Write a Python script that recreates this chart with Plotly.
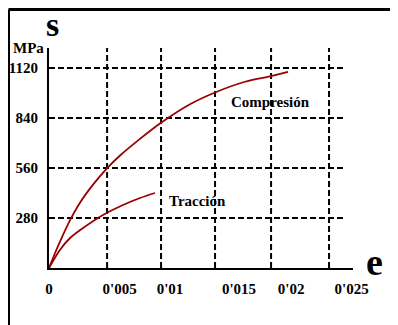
import plotly.graph_objects as go

# Data
comp_strain = [0, 0.0005, 0.00091, 0.00174, 0.00256, 0.00364, 0.00479, 0.00587, 0.00752,
               0.00917, 0.01165, 0.01372, 0.0162, 0.01826, 0.01975]
comp_stress = [0, 84, 148, 268, 366, 467, 558, 630, 723, 809, 917, 983, 1043, 1073, 1098]

trac_strain = [0, 0.0009, 0.00174, 0.00281, 0.00446, 0.00612, 0.00752, 0.00876]
trac_stress = [0, 101, 168, 224, 297, 353, 392, 420]

x_tick_text = ["0", "0'005", "0'01", "0'015", "0'02", "0'025"]
x_tick_pos = [0, 0.00583, 0.0100, 0.0157, 0.0200, 0.0250]
y_tick_vals = [280, 560, 840, 1120]
y_tick_text = ["280", "560", "840", "1120"]

v_grid = [0.0048, 0.00926, 0.01372, 0.01835, 0.02314]
h_grid = [280, 560, 840, 1120]

X_MAX = 0.02512
Y_MAX = 1232
H_GRID_END = 0.02446

RED = "#990000"
FONT = "Liberation Serif"

fig = go.Figure()
fig.add_trace(go.Scatter(x=comp_strain, y=comp_stress, mode="lines",
                         line=dict(color=RED, width=1.8, shape="spline", smoothing=0.8),
                         showlegend=False, hoverinfo="skip", cliponaxis=False))
fig.add_trace(go.Scatter(x=trac_strain, y=trac_stress, mode="lines",
                         line=dict(color=RED, width=1.8, shape="spline", smoothing=0.8),
                         showlegend=False, hoverinfo="skip", cliponaxis=False))

shapes = []
for xv in v_grid:
    shapes.append(dict(type="line", xref="x", yref="y", x0=xv, x1=xv, y0=0, y1=Y_MAX,
                       line=dict(color="black", width=2, dash="6px,3px"), layer="below"))
for yv in h_grid:
    shapes.append(dict(type="line", xref="x", yref="y", x0=0, x1=H_GRID_END, y0=yv, y1=yv,
                       line=dict(color="black", width=2, dash="6px,3px"), layer="below"))
# outer frame (top and left)
shapes.append(dict(type="line", xref="paper", yref="paper", x0=-0.1332, x1=1.2, y0=1.175, y1=1.175,
                   line=dict(color="black", width=3)))
shapes.append(dict(type="line", xref="paper", yref="paper", x0=-0.1332, x1=-0.1332, y0=1.175, y1=-0.3,
                   line=dict(color="black", width=3)))

annotations = [
    dict(text="<b>Compresión</b>", x=0.0183, y=930, xref="x", yref="y", showarrow=False,
         xanchor="center", yanchor="middle",
         font=dict(family=FONT, size=15, color="black")),
    dict(text="<b>Tracción</b>", x=0.01223, y=375, xref="x", yref="y", showarrow=False,
         xanchor="center", yanchor="middle",
         font=dict(family=FONT, size=15, color="black")),
    dict(text="<b>MPa</b>", x=-0.0674, y=1.0, xref="paper", yref="paper", showarrow=False,
         xanchor="center", yanchor="middle",
         font=dict(family=FONT, size=15, color="black")),
    dict(text="<b>s</b>", x=0.013, y=1.105, xref="paper", yref="paper", showarrow=False,
         xanchor="center", yanchor="middle",
         font=dict(family=FONT, size=34, color="black")),
    dict(text="<b>e</b>", x=1.072, y=0.027, xref="paper", yref="paper", showarrow=False,
         xanchor="center", yanchor="middle",
         font=dict(family=FONT, size=38, color="black")),
]

fig.update_layout(
    width=390, height=317,
    margin=dict(l=41, r=45, t=40, b=57, autoexpand=False),
    paper_bgcolor="white", plot_bgcolor="white",
    shapes=shapes, annotations=annotations,
    xaxis=dict(range=[0, X_MAX], showgrid=False, zeroline=False, showline=True,
               linecolor="black", linewidth=2, ticks="", tickmode="array",
               tickvals=x_tick_pos, ticktext=["<b>%s</b>" % t for t in x_tick_text],
               ticklabelstandoff=6, automargin=False,
               tickfont=dict(family=FONT, size=15, color="black")),
    yaxis=dict(range=[0, Y_MAX], showgrid=False, zeroline=False, showline=True,
               linecolor="black", linewidth=2, ticks="", tickmode="array",
               tickvals=y_tick_vals, ticktext=["<b>%s</b>" % t for t in y_tick_text],
               ticklabelstandoff=6, automargin=False,
               tickfont=dict(family=FONT, size=15, color="black")),
)

fig.write_html("out.html")
